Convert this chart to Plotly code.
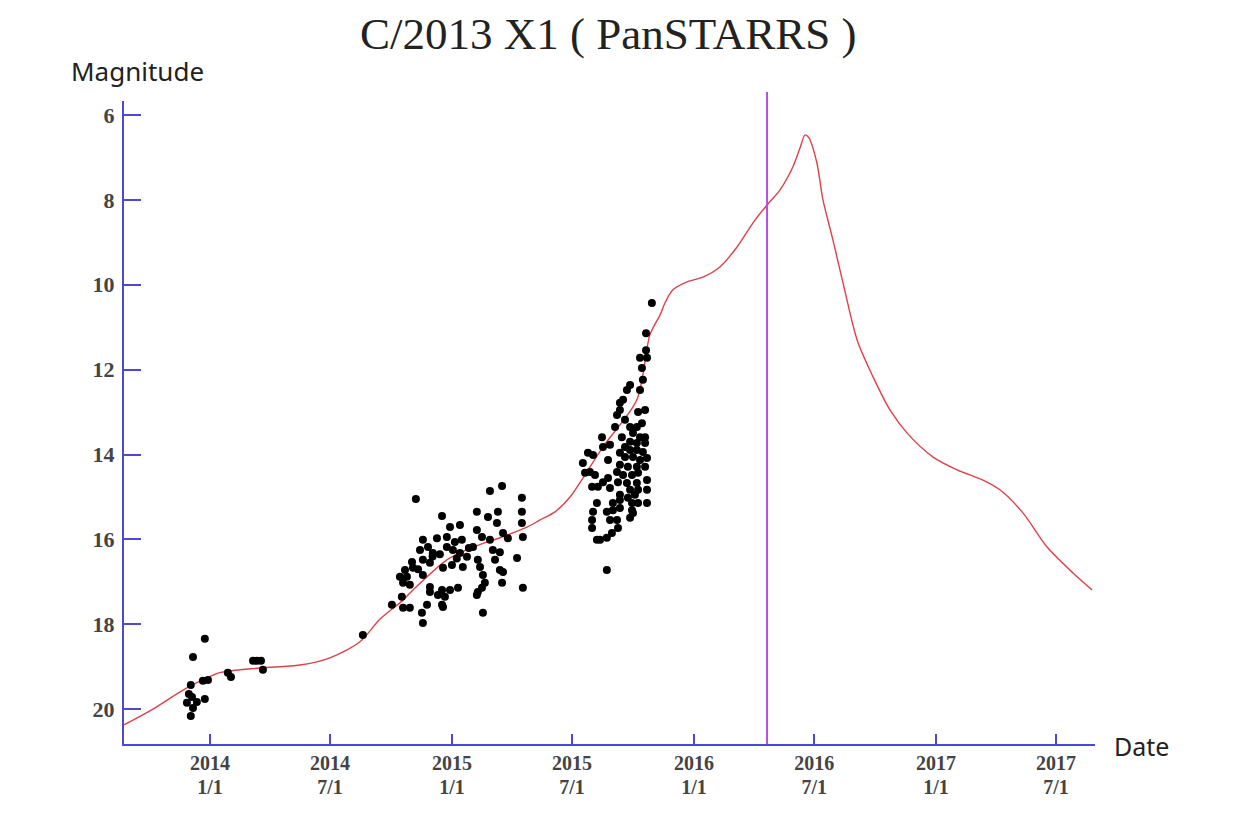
import pandas as pd
import plotly.graph_objects as go

# ---------------- data ----------------
# Light-curve prediction (decimal year, magnitude)
curve_year = [2013.645, 2013.752, 2013.905, 2014.041, 2014.207, 2014.372, 2014.496, 2014.620,
              2014.702, 2014.798, 2014.839, 2014.979, 2015.087, 2015.198, 2015.310, 2015.364,
              2015.426, 2015.488, 2015.624, 2015.764, 2015.818, 2015.860, 2015.880, 2015.913,
              2015.971, 2016.037, 2016.107, 2016.178, 2016.244, 2016.302, 2016.355, 2016.409,
              2016.438, 2016.459, 2016.475, 2016.508, 2016.533, 2016.574, 2016.616, 2016.674,
              2016.740, 2016.810, 2016.880, 2016.988, 2017.087, 2017.194, 2017.264, 2017.360,
              2017.459, 2017.566, 2017.645]
curve_mag = [20.37, 20.04, 19.50, 19.14, 19.03, 18.96, 18.79, 18.41,
             17.88, 17.43, 17.19, 16.48, 16.18, 15.96, 15.71, 15.54,
             15.35, 15.00, 13.82, 12.71, 11.18, 10.71, 10.43, 10.12,
             9.93, 9.82, 9.58, 9.11, 8.54, 8.12, 7.77, 7.22,
             6.78, 6.47, 6.54, 7.13, 8.00, 8.94, 9.96, 11.30,
             12.17, 12.95, 13.49, 14.06, 14.36, 14.60, 14.83, 15.38,
             16.18, 16.79, 17.19]

# Observations (decimal year, magnitude)
obs_year = [
    # late 2013 - 2014
    2013.979, 2013.930, 2013.921, 2013.971, 2013.992, 2013.926, 2013.905, 2013.946, 2013.979,
    2013.930, 2013.921, 2014.074, 2014.087, 2014.178, 2014.194, 2014.211, 2014.219, 2014.632,
    2013.913,
    # late 2014 - mid 2015
    2014.851, 2015.157, 2015.207, 2015.289, 2015.289, 2015.289, 2015.293, 2015.103, 2015.149,
    2015.190, 2015.186, 2014.959, 2014.992, 2015.033, 2014.880, 2014.938, 2014.979, 2015.012,
    2015.041, 2015.103, 2015.124, 2015.211, 2015.231, 2015.157, 2014.868, 2014.901, 2014.921,
    2014.979, 2015.004, 2015.033, 2015.062, 2015.087, 2015.169, 2015.198, 2015.107, 2015.116,
    2015.178, 2015.269, 2014.835, 2014.880, 2014.909, 2014.963, 2015.000, 2015.045, 2014.806,
    2014.839, 2014.785, 2014.814, 2014.880, 2015.128, 2015.136, 2015.198, 2015.211, 2015.207,
    2015.293, 2014.798, 2014.826, 2014.909, 2014.909, 2014.959, 2014.992, 2015.025, 2014.942,
    2014.971, 2015.107, 2015.124, 2015.103, 2014.793, 2014.752, 2014.798, 2014.826, 2014.897,
    2014.959, 2014.963, 2014.876, 2014.880, 2015.128, 2014.920, 2014.950, 2015.020, 2015.070,
    2014.860,
    # mid - late 2015
    2015.826, 2015.802, 2015.802, 2015.777, 2015.806, 2015.785, 2015.789, 2015.777, 2015.723,
    2015.736, 2015.694, 2015.707, 2015.694, 2015.682, 2015.769, 2015.798, 2015.715, 2015.674,
    2015.736, 2015.764, 2015.785, 2015.748, 2015.777, 2015.798, 2015.620, 2015.702, 2015.736,
    2015.764, 2015.798, 2015.624, 2015.653, 2015.715, 2015.736, 2015.764, 2015.789, 2015.562,
    2015.583, 2015.694, 2015.715, 2015.748, 2015.777, 2015.806, 2015.541, 2015.645, 2015.694,
    2015.727, 2015.764, 2015.798, 2015.550, 2015.570, 2015.591, 2015.682, 2015.707, 2015.744,
    2015.769, 2015.624, 2015.645, 2015.686, 2015.723, 2015.764, 2015.806, 2015.579, 2015.603,
    2015.653, 2015.736, 2015.769, 2015.806, 2015.694, 2015.727, 2015.756, 2015.744, 2015.769,
    2015.806, 2015.599, 2015.665, 2015.694, 2015.640, 2015.665, 2015.694, 2015.583, 2015.744,
    2015.653, 2015.682, 2015.736, 2015.748, 2015.579, 2015.579, 2015.686, 2015.661, 2015.640,
    2015.612, 2015.599, 2015.640,
]
obs_mag = [
    18.34, 18.77, 19.43, 19.33, 19.31, 19.71, 19.85, 19.83, 19.76,
    19.97, 20.16, 19.14, 19.24, 18.86, 18.86, 18.86, 19.07, 18.25,
    19.64,
    15.05, 14.86, 14.74, 15.02, 15.35, 15.61, 15.94, 15.35, 15.47,
    15.35, 15.61, 15.45, 15.71, 15.66, 16.01, 15.97, 15.94, 16.06,
    16.01, 15.78, 15.94, 15.85, 15.97, 16.01, 16.25, 16.18, 16.32,
    16.18, 16.25, 16.32, 16.41, 16.18, 16.25, 16.30, 16.48, 16.65,
    16.48, 16.44, 16.53, 16.48, 16.55, 16.67, 16.60, 16.65, 16.72,
    16.67, 16.88, 16.88, 16.84, 16.84, 17.02, 16.72, 16.77, 17.02,
    17.14, 17.02, 17.07, 17.12, 17.24, 17.19, 17.19, 17.14, 17.31,
    17.35, 17.24, 17.14, 17.31, 17.35, 17.54, 17.61, 17.61, 17.54,
    17.54, 17.59, 17.73, 17.97, 17.73, 16.40, 16.35, 16.45, 16.20,
    16.70,
    10.43, 11.14, 11.54, 11.72, 11.72, 11.96, 12.24, 12.48, 12.48,
    12.36, 12.78, 12.71, 12.95, 13.07, 13.00, 12.95, 13.18, 13.35,
    13.35, 13.35, 13.26, 13.49, 13.59, 13.59, 13.59, 13.59, 13.70,
    13.73, 13.73, 13.82, 13.77, 13.82, 13.89, 13.89, 13.94, 13.96,
    14.01, 13.96, 14.06, 14.06, 14.13, 14.08, 14.20, 14.13, 14.24,
    14.29, 14.29, 14.29, 14.43, 14.41, 14.48, 14.41, 14.48, 14.48,
    14.43, 14.65, 14.55, 14.65, 14.67, 14.67, 14.60, 14.76, 14.76,
    14.79, 14.83, 14.83, 14.83, 14.95, 15.02, 14.95, 15.14, 15.14,
    15.14, 15.14, 15.14, 15.07, 15.35, 15.31, 15.26, 15.35, 15.31,
    15.54, 15.54, 15.49, 15.38, 15.54, 15.73, 15.73, 15.85, 15.96,
    16.01, 16.01, 16.72,
]

today_year = 2016.302
tick_dates = ["2014-01-01", "2014-07-01", "2015-01-01", "2015-07-01",
              "2016-01-01", "2016-07-01", "2017-01-01", "2017-07-01"]
tick_years = ["2014", "2014", "2015", "2015", "2016", "2016", "2017", "2017"]
tick_days = ["1/1", "7/1", "1/1", "7/1", "1/1", "7/1", "1/1", "7/1"]
mag_ticks = [6, 8, 10, 12, 14, 16, 18, 20]


def dec_year(s):
    t = pd.Timestamp(s)
    start = pd.Timestamp(year=t.year, month=1, day=1)
    end = pd.Timestamp(year=t.year + 1, month=1, day=1)
    return t.year + (t - start) / (end - start)


tick_vals = [dec_year(d) for d in tick_dates]

# ---------------- figure ----------------
AXIS = "#4b48d6"
XRANGE = [2013.645, 2017.657]
fig = go.Figure()
fig.add_trace(go.Scatter(x=curve_year, y=curve_mag, mode="lines",
                         line=dict(color="#e0404a", width=1.4, shape="spline", smoothing=0.8),
                         hoverinfo="skip", showlegend=False))
fig.add_trace(go.Scatter(x=obs_year, y=obs_mag, mode="markers",
                         marker=dict(color="black", size=8, symbol="circle"),
                         showlegend=False))
# invisible trace bound to the second (label-only) x axis
fig.add_trace(go.Scatter(x=[XRANGE[0]], y=[mag_ticks[0]], xaxis="x2", mode="markers",
                         marker=dict(opacity=0), hoverinfo="skip", showlegend=False))

fig.add_shape(type="line", xref="x", yref="paper", x0=today_year, x1=today_year,
              y0=0, y1=1.014, line=dict(color="#b44ee0", width=2))

serif = "Liberation Serif, Times New Roman, serif"
tfont = dict(family=serif, size=20, color="#444444", weight="bold")
fig.update_layout(
    width=1225, height=821,
    margin=dict(l=116, r=138, t=93, b=85),
    paper_bgcolor="white", plot_bgcolor="white",
    title=dict(text="C/2013 X1 ( PanSTARRS )", x=0.490, xanchor="center",
               y=0.9695, yanchor="middle", automargin=False,
               font=dict(family=serif, size=45, color="#222222")),
    xaxis=dict(range=XRANGE, tickvals=tick_vals, ticktext=tick_years, automargin=False,
               showgrid=False, zeroline=False, showline=True, linecolor=AXIS, linewidth=2,
               ticks="inside", ticklen=10, tickwidth=2, tickcolor=AXIS,
               ticklabelstandoff=0, tickfont=tfont),
    xaxis2=dict(range=XRANGE, tickvals=tick_vals, ticktext=tick_days, automargin=False,
                overlaying="x", anchor="y", side="bottom",
                showgrid=False, zeroline=False, showline=False, ticks="",
                ticklabelstandoff=29, tickfont=tfont),
    yaxis=dict(range=[20.82, 5.67], tickvals=mag_ticks, automargin=False,
               showgrid=False, zeroline=False, showline=True, linecolor=AXIS, linewidth=2,
               ticks="inside", ticklen=17, tickwidth=2, tickcolor=AXIS,
               ticklabelstandoff=3,
               tickfont=dict(family=serif, size=22, color="#444444", weight="bold")),
    annotations=[
        dict(text="Magnitude", xref="paper", yref="paper", x=0.0134, y=1.0467,
             xanchor="center", yanchor="middle", showarrow=False,
             font=dict(family="Noto Sans, Open Sans, sans-serif", size=26, color="#222222")),
        dict(text="Date", xref="paper", yref="paper", x=1.0474, y=-0.003,
             xanchor="center", yanchor="middle", showarrow=False,
             font=dict(family="Noto Sans, Open Sans, sans-serif", size=25, color="#222222")),
    ],
)

fig.write_html("out.html")
